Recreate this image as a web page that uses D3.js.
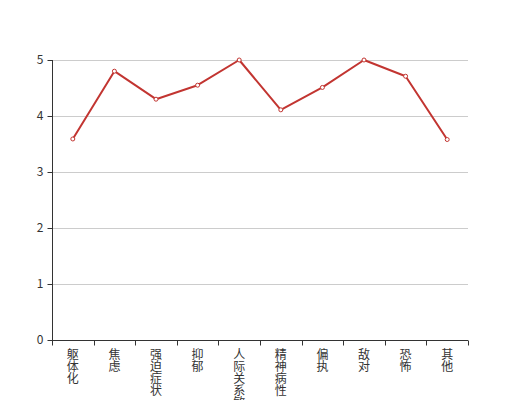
<!DOCTYPE html>
<html><head><meta charset="utf-8">
<script src="https://cdn.jsdelivr.net/npm/d3@7/dist/d3.min.js"></script>
<style>body{margin:0;background:#fff;}svg{display:block;font-family:"Noto Sans CJK SC","Noto Sans",sans-serif;}</style>
</head><body>
<svg id="c" width="520" height="400"></svg>
<script>
const categories = ["躯体化","焦虑","强迫症状","抑郁","人际关系敏感","精神病性","偏执","敌对","恐怖","其他"];
const values = [3.59, 4.80, 4.30, 4.55, 5.0, 4.11, 4.51, 5.0, 4.71, 3.58];
const yTicks = [0,1,2,3,4,5];

const svg = d3.select("#c");
const mLeft = 52, mRight = 468, mTop = 60, mBottom = 340;
const x = d3.scaleBand().domain(categories).range([mLeft, mRight]);
const y = d3.scaleLinear().domain([0,5]).range([mBottom, mTop]);

// grid
svg.append("g").selectAll("line").data(yTicks.filter(d=>d>0)).join("line")
  .attr("x1", mLeft).attr("x2", mRight)
  .attr("y1", d=>y(d)+0.5).attr("y2", d=>y(d)+0.5)
  .attr("stroke", "#ccc").attr("stroke-width", 1);

// y axis
const ya = svg.append("g").attr("transform", `translate(${mLeft+0.5},0)`);
ya.append("line").attr("y1", mTop).attr("y2", mBottom).attr("stroke", "#333");
ya.selectAll(".t").data(yTicks).join("line")
  .attr("x1", -5).attr("x2", 0).attr("y1", d=>y(d)+0.5).attr("y2", d=>y(d)+0.5).attr("stroke", "#333");
ya.selectAll("text").data(yTicks).join("text")
  .attr("x", -9).attr("y", d=>y(d)).attr("dy", "0.35em")
  .attr("text-anchor", "end").attr("font-size", 12).attr("fill", "#333").text(d=>d);

// x axis
const xa = svg.append("g").attr("transform", `translate(0,${mBottom+0.5})`);
xa.append("line").attr("x1", mLeft).attr("x2", mRight).attr("stroke", "#333");
const bounds = categories.map(c=>x(c)).concat([mRight]);
xa.selectAll(".tk").data(bounds).join("line")
  .attr("x1", d=>Math.round(d)+0.5).attr("x2", d=>Math.round(d)+0.5).attr("y1", 0).attr("y2", 5).attr("stroke", "#333");
const lbl = xa.selectAll("text").data(categories).join("text")
  .attr("font-size", 12).attr("fill", "#333").attr("text-anchor", "middle");
lbl.each(function(c){
  const t = d3.select(this);
  Array.from(c).forEach((ch,i)=>{
    t.append("tspan").attr("x", x(c)+x.bandwidth()/2).attr("y", 18 + i*12).text(ch);
  });
});

// line
const line = d3.line().x((d,i)=>x(categories[i])+x.bandwidth()/2).y(d=>y(d));
svg.append("path").datum(values).attr("d", line).attr("fill", "none")
  .attr("stroke", "#c23531").attr("stroke-width", 2).attr("stroke-linejoin", "round");
svg.append("g").selectAll("circle").data(values).join("circle")
  .attr("cx", (d,i)=>x(categories[i])+x.bandwidth()/2).attr("cy", d=>y(d)).attr("r", 2)
  .attr("fill", "#fff").attr("stroke", "#c23531").attr("stroke-width", 1);
</script>
</body></html>
